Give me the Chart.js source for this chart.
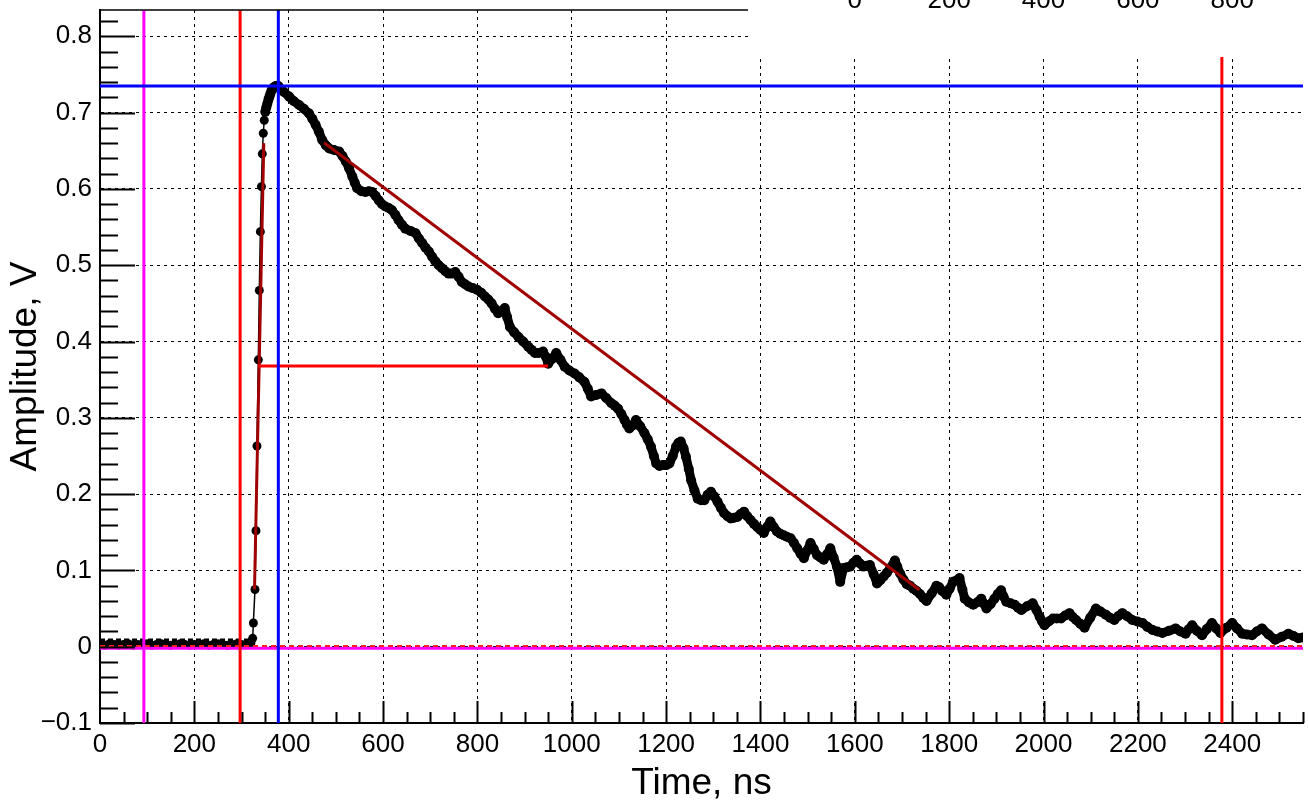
<!DOCTYPE html>
<html>
<head>
<meta charset="utf-8">
<title>Pulse waveform</title>
<script src="https://cdn.jsdelivr.net/npm/chart.js@4.4.0/dist/chart.umd.min.js"></script>
<style>
  html, body { margin: 0; padding: 0; background: #fff; }
  canvas { display: block; }
</style>
</head>
<body>
<canvas id="waveform" width="1308" height="801"></canvas>
<script>
// axis ranges (ns, V)
const xMin = 0, xMax = 2550
const yMin = -0.1, yMax = 0.8345

// baseline samples before the pulse
const baselineTimeNs = [0, 10, 20, 30, 40, 50, 60, 70, 80, 90, 100, 110, 120, 130, 140, 150, 160,
    170, 180, 190, 200, 210, 220, 230, 240, 250, 260, 270, 280, 290, 300, 310, 320]
const baselineAmpV = [0.003, 0.002, 0.004, 0.003, 0.002, 0.003, 0.004, 0.002, 0.003, 0.003, 0.004, 0.002, 0.003, 0.004, 0.003, 0.002, 0.003,
    0.004, 0.003, 0.002, 0.003, 0.003, 0.004, 0.002, 0.003, 0.004, 0.003, 0.002, 0.003, 0.004, 0.003, 0.003, 0.005]

// rising edge samples
const riseTimeNs = [323.6, 325.1, 328.5, 330.6, 332.7, 335.6, 337.7, 339.9, 342.2, 344.0, 346.1, 348.2, 350.4]
const riseAmpV = [0.011, 0.031, 0.075, 0.152, 0.263, 0.376, 0.467, 0.544, 0.603, 0.646, 0.673, 0.690, 0.701]

// peak and decay samples
const decayTimeNs = [
    350.4, 352.6, 354.8, 357, 359.2, 361.4, 363.6, 366, 368, 370.5,
    373, 375.5, 378, 380, 390, 401, 411, 422, 432, 443,
    450, 457, 464, 471, 479, 486, 496, 507, 514, 521,
    528, 535, 540, 545, 554, 563, 570, 577, 584, 591,
    598, 605, 612, 619, 626, 633, 640, 647, 658, 669,
    676, 683, 690, 697, 704, 711, 718, 725, 732, 739,
    746, 753, 760, 767, 774, 781, 790, 799, 808, 816,
    823, 830, 837, 844, 851, 858, 863, 869, 878, 887,
    897, 908, 915, 922, 930, 939, 945, 950, 958, 967,
    976, 985, 995, 1006, 1016, 1027, 1034, 1041, 1052, 1063,
    1073, 1084, 1091, 1098, 1105, 1112, 1117, 1122, 1129, 1136,
    1145, 1154, 1161, 1168, 1174, 1179, 1186, 1193, 1200, 1207,
    1214, 1221, 1226, 1231, 1237, 1242, 1248, 1253, 1260, 1267,
    1274, 1281, 1288, 1295, 1302, 1309, 1316, 1323, 1330, 1337,
    1344, 1351, 1358, 1365, 1372, 1379, 1386, 1393, 1400, 1407,
    1414, 1421, 1428, 1435, 1442, 1449, 1456, 1464, 1471, 1478,
    1485, 1492, 1499, 1506, 1513, 1520, 1527, 1534, 1541, 1548,
    1555, 1562, 1569, 1576, 1583, 1590, 1597, 1604, 1611, 1618,
    1625, 1632, 1640, 1647, 1654, 1661, 1668, 1675, 1685, 1690,
    1696, 1703, 1710, 1717, 1724, 1731, 1738, 1745, 1752, 1763,
    1773, 1779, 1785, 1794, 1801, 1808, 1822, 1828, 1833, 1842,
    1851, 1859, 1868, 1874, 1879, 1888, 1896, 1903, 1910, 1915,
    1921, 1930, 1939, 1946, 1953, 1965, 1977, 1985, 1992, 1997,
    2002, 2011, 2020, 2028, 2037, 2046, 2055, 2062, 2069, 2078,
    2087, 2099, 2111, 2121, 2132, 2141, 2150, 2158, 2167, 2177,
    2188, 2199, 2210, 2220, 2231, 2241, 2252, 2266, 2280, 2290,
    2301, 2308, 2315, 2325, 2336, 2346, 2357, 2366, 2375, 2388,
    2400, 2410, 2421, 2431, 2442, 2452, 2463, 2477, 2491, 2505,
    2519, 2530, 2540, 2550]
const decayAmpV = [
    0.701, 0.707, 0.712, 0.717, 0.721, 0.725, 0.729, 0.731, 0.733, 0.734,
    0.735, 0.735, 0.735, 0.733, 0.727, 0.721, 0.715, 0.710, 0.705, 0.699,
    0.692, 0.684, 0.675, 0.664, 0.657, 0.653, 0.651, 0.649, 0.643, 0.636,
    0.627, 0.616, 0.608, 0.601, 0.597, 0.596, 0.597, 0.596, 0.591, 0.585,
    0.580, 0.577, 0.575, 0.572, 0.566, 0.559, 0.553, 0.548, 0.545, 0.542,
    0.535, 0.529, 0.523, 0.518, 0.511, 0.505, 0.500, 0.496, 0.492, 0.489,
    0.489, 0.491, 0.485, 0.478, 0.475, 0.472, 0.470, 0.468, 0.464, 0.459,
    0.455, 0.450, 0.443, 0.437, 0.440, 0.444, 0.432, 0.419, 0.412, 0.406,
    0.400, 0.393, 0.389, 0.385, 0.385, 0.387, 0.380, 0.371, 0.377, 0.385,
    0.376, 0.367, 0.362, 0.358, 0.353, 0.347, 0.338, 0.328, 0.330, 0.332,
    0.326, 0.319, 0.316, 0.312, 0.305, 0.297, 0.291, 0.286, 0.290, 0.297,
    0.289, 0.280, 0.272, 0.262, 0.250, 0.240, 0.237, 0.238, 0.238, 0.240,
    0.250, 0.262, 0.267, 0.269, 0.260, 0.249, 0.233, 0.218, 0.205, 0.194,
    0.192, 0.192, 0.199, 0.203, 0.197, 0.190, 0.182, 0.175, 0.171, 0.168,
    0.169, 0.170, 0.174, 0.177, 0.171, 0.166, 0.161, 0.157, 0.153, 0.149,
    0.157, 0.164, 0.157, 0.151, 0.148, 0.146, 0.144, 0.142, 0.136, 0.129,
    0.122, 0.116, 0.126, 0.136, 0.128, 0.120, 0.117, 0.114, 0.121, 0.129,
    0.117, 0.105, 0.085, 0.103, 0.104, 0.105, 0.110, 0.114, 0.109, 0.105,
    0.106, 0.107, 0.095, 0.083, 0.087, 0.092, 0.097, 0.103, 0.113, 0.105,
    0.096, 0.088, 0.082, 0.080, 0.076, 0.073, 0.069, 0.064, 0.060, 0.070,
    0.080, 0.078, 0.073, 0.068, 0.076, 0.085, 0.090, 0.075, 0.063, 0.058,
    0.055, 0.058, 0.063, 0.056, 0.050, 0.056, 0.063, 0.069, 0.074, 0.066,
    0.059, 0.057, 0.055, 0.051, 0.048, 0.053, 0.057, 0.048, 0.039, 0.033,
    0.028, 0.033, 0.037, 0.037, 0.037, 0.041, 0.044, 0.039, 0.035, 0.030,
    0.025, 0.038, 0.050, 0.046, 0.042, 0.038, 0.035, 0.040, 0.044, 0.040,
    0.035, 0.033, 0.031, 0.026, 0.022, 0.020, 0.018, 0.021, 0.024, 0.020,
    0.017, 0.023, 0.028, 0.021, 0.015, 0.023, 0.031, 0.024, 0.018, 0.025,
    0.031, 0.024, 0.017, 0.016, 0.015, 0.020, 0.024, 0.016, 0.009, 0.013,
    0.017, 0.014, 0.011, 0.012]

// fitted lines (front edge and tail)
const riseFitTimeNs = [327.5, 347.2]
const riseFitAmpV = [0.075, 0.660]
const decayFitTimeNs = [475, 1737]
const decayFitAmpV = [0.6605, 0.0743]

// markers
const peakTimeNs = 378
const peakAmpV = 0.735
const halfLevelTimeNs = [336, 950]
const halfLevelV = 0.368
const gateTimeNs = [297, 2378]
const startTimeNs = 93
const pedestalV = -0.002
const zeroLevelV = 0.001
const noiseLevelV = 0.009
const noiseEndNs = 325

// second pad's axis labels peeking in at the top (placed under main-axis times)
const insetTickLabels = ['0', '200', '400', '600', '800']
const insetAnchorNs = [1600, 1800, 2000, 2200, 2400]

const FONT = '"Liberation Sans", Arial, Helvetica, sans-serif'
Chart.defaults.font.family = FONT
Chart.defaults.color = '#000'

const toPoints = (xs, ys) => xs.map((x, i) => ({ x: x, y: ys[i] }))
const hLine = (v, x0, x1) => [{ x: x0, y: v }, { x: x1, y: v }]
const vLine = (t) => [{ x: t, y: yMin }, { x: t, y: yMax }]

const lineSet = (data, color, width, dash, order) => ({
    data: data,
    showLine: true,
    borderColor: color,
    borderWidth: width,
    borderDash: dash || [],
    pointRadius: 0,
    order: order
})

// ROOT-like inner ticks, top frame and the overlapping pad corner
const rootFrame = {
    id: 'rootFrame',
    afterDraw(chart) {
        const { ctx, chartArea: a, scales: { x, y } } = chart
        ctx.save()
        ctx.strokeStyle = '#000'
        ctx.lineWidth = 2
        ctx.beginPath()
        for (let k = -5; k * 0.02 <= yMax; k++) {
            const py = Math.round(y.getPixelForValue(k * 0.02)) + 0.5
            const len = k % 5 === 0 ? 35 : 18
            ctx.moveTo(a.left, py)
            ctx.lineTo(a.left + len, py)
        }
        for (let k = 1; k * 50 <= xMax; k++) {
            const px = Math.round(x.getPixelForValue(k * 50)) + 0.5
            const len = k % 4 === 0 ? 22 : 11
            ctx.moveTo(px, a.bottom)
            ctx.lineTo(px, a.bottom - len)
        }
        ctx.stroke()

        ctx.lineWidth = 1.5
        ctx.beginPath()
        ctx.moveTo(a.left, a.top)
        ctx.lineTo(a.right, a.top)
        ctx.stroke()

        ctx.fillStyle = '#fff'
        ctx.fillRect(748, 0, chart.width - 748, 57)
        ctx.fillStyle = '#000'
        ctx.font = '26px ' + FONT
        ctx.textAlign = 'center'
        ctx.textBaseline = 'alphabetic'
        insetTickLabels.forEach((label, i) => {
            ctx.fillText(label, x.getPixelForValue(insetAnchorNs[i]), 8)
        })
        ctx.restore()
    }
}

const ctx = document.getElementById('waveform')
new Chart(ctx, {
    type: 'scatter',
    data: {
        datasets: [
            lineSet(vLine(peakTimeNs), '#0000ff', 3, null, 0),
            lineSet(hLine(peakAmpV, xMin, xMax), '#0000ff', 3, null, 0),
            lineSet(vLine(gateTimeNs[0]), '#ff0000', 3, null, 1),
            lineSet(vLine(gateTimeNs[1]), '#ff0000', 3, null, 1),
            lineSet(hLine(halfLevelV, halfLevelTimeNs[0], halfLevelTimeNs[1]), '#ff0000', 3, null, 1),
            lineSet(vLine(startTimeNs), '#ff00ff', 3, null, 2),
            lineSet(hLine(zeroLevelV, xMin, xMax), '#ff2020', 2, [5, 4], 2),
            lineSet(hLine(pedestalV, xMin, xMax), '#ff00ff', 3, null, 3),
            lineSet(hLine(noiseLevelV, xMin, noiseEndNs), '#000', 2.5, [5, 3], 3),
            lineSet(toPoints(riseFitTimeNs, riseFitAmpV), '#a00000', 3, null, 4),
            lineSet(toPoints(decayFitTimeNs, decayFitAmpV), '#a00000', 3, null, 4),
            {
                data: toPoints(baselineTimeNs.concat(riseTimeNs), baselineAmpV.concat(riseAmpV)),
                showLine: true,
                borderColor: '#000',
                borderWidth: 1.5,
                pointRadius: 4.5,
                pointBackgroundColor: '#000',
                pointBorderWidth: 0,
                order: 10
            },
            {
                data: toPoints(decayTimeNs, decayAmpV),
                showLine: true,
                borderColor: '#000',
                borderWidth: 9,
                borderJoinStyle: 'round',
                borderCapStyle: 'round',
                pointRadius: 5,
                pointBackgroundColor: '#000',
                pointBorderWidth: 0,
                order: 10
            }
        ]
    },
    options: {
        responsive: false,
        animation: false,
        layout: { padding: { top: 10, right: 0, bottom: 0, left: 0 } },
        plugins: { legend: { display: false }, tooltip: { enabled: false } },
        scales: {
            x: {
                type: 'linear',
                min: xMin,
                max: xMax,
                afterFit: (s) => {
                    s.height = 78
                    s.paddingLeft = 0
                    s.paddingRight = 0
                },
                ticks: {
                    stepSize: 200,
                    includeBounds: false,
                    autoSkip: false,
                    maxRotation: 0,
                    padding: 6,
                    color: '#000',
                    font: { size: 26 },
                    callback: (value) => String(value)
                },
                grid: { color: '#000', lineWidth: 1, drawTicks: false },
                border: { display: true, color: '#000', width: 2, dash: [3, 4] },
                title: {
                    display: true,
                    text: 'Time, ns',
                    color: '#000',
                    font: { size: 37, lineHeight: 0.95 },
                    padding: { top: 0, bottom: 0 }
                }
            },
            y: {
                type: 'linear',
                min: yMin,
                max: yMax,
                afterFit: (s) => {
                    s.width = 100
                    s.paddingTop = 0
                    s.paddingBottom = 0
                },
                ticks: {
                    stepSize: 0.1,
                    includeBounds: false,
                    padding: 8,
                    color: '#000',
                    font: { size: 26 },
                    callback: (value) => {
                        const v = Math.round(value * 10) / 10
                        return v < 0 ? '\u2212' + Math.abs(v) : String(v)
                    }
                },
                grid: { color: '#000', lineWidth: 1, drawTicks: false },
                border: { display: true, color: '#000', width: 2, dash: [3, 4] },
                title: {
                    display: true,
                    text: 'Amplitude, V',
                    color: '#000',
                    font: { size: 37, lineHeight: 1.1 },
                    padding: { top: 5, bottom: 0 }
                }
            }
        }
    },
    plugins: [rootFrame]
})
</script>
</body>
</html>
